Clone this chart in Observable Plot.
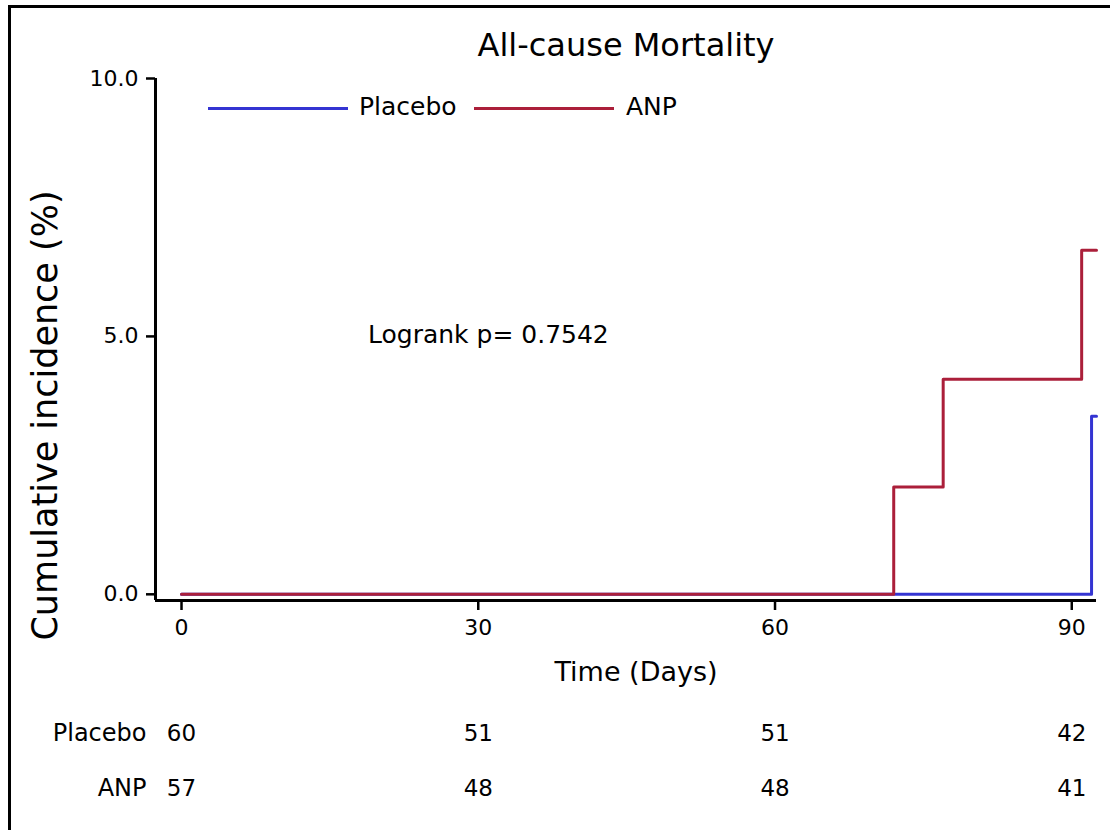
<!DOCTYPE html>
<html>
<head>
<meta charset="utf-8">
<script src="https://cdn.jsdelivr.net/npm/d3@7"></script>
<script src="https://cdn.jsdelivr.net/npm/@observablehq/plot@0.6"></script>
<style>
  html, body { margin: 0; padding: 0; background: #fff; }
  #wrap { position: relative; width: 1110px; height: 830px; overflow: hidden; font-family: "DejaVu Sans", sans-serif; color: #000; }
  #frame { position: absolute; left: 8px; top: 5px; width: 1110px; height: 840px; border-top: 3px solid #000; border-left: 3px solid #000; box-sizing: border-box; pointer-events: none; }
  #chart { position: absolute; left: 0; top: 0; }
  .overlay { position: absolute; white-space: nowrap; line-height: 1; }
</style>
</head>
<body>
<div id="wrap">
  <div id="chart"></div>
  <div id="frame"></div>
</div>
<script>
// ---- data ----
const groups = ["Placebo", "ANP"];
const groupColors = ["#3434d2", "#ab1f3a"];
const placeboDays = [0, 92, 92.5];
const placeboPct = [0, 3.45, 3.45];
const anpDays = [0, 72, 77, 91, 92.5];
const anpPct = [0, 2.08, 4.17, 6.67, 6.67];
const xTicks = [0, 30, 60, 90];
const yTicks = [0, 5, 10];
const xDomain = [-2.63, 92.5];
const yDomain = [-0.12, 10];
const atRiskTimes = [0, 30, 60, 90];
const atRiskPlacebo = [60, 51, 51, 42];
const atRiskANP = [57, 48, 48, 41];
const titleText = "All-cause Mortality";
const xLabel = "Time (Days)";
const yLabel = "Cumulative incidence (%)";
const logrankText = "Logrank p= 0.7542";

const placebo = placeboDays.map((d, i) => ({day: d, pct: placeboPct[i], group: "Placebo"}));
const anp = anpDays.map((d, i) => ({day: d, pct: anpPct[i], group: "ANP"}));
const riskPlacebo = atRiskTimes.map((t, i) => ({t, n: atRiskPlacebo[i]}));
const riskANP = atRiskTimes.map((t, i) => ({t, n: atRiskANP[i]}));

const font = "'DejaVu Sans', sans-serif";

const plot = Plot.plot({
  width: 1110,
  height: 830,
  marginLeft: 155,
  marginRight: 14,
  marginTop: 78,
  marginBottom: 230,
  style: {fontFamily: font, fontSize: "22px", color: "#000", background: "transparent", overflow: "visible"},
  x: {domain: xDomain},
  y: {domain: yDomain},
  color: {domain: groups, range: groupColors},
  marks: [
    Plot.axisX(xTicks, {tickSize: 10, tickPadding: 9, strokeWidth: 2.5, label: null, fontSize: 22, fill: "#000"}),
    Plot.axisY(yTicks, {tickSize: 9, tickPadding: 8, strokeWidth: 2.5, tickFormat: d3.format(".1f"), label: null, fontSize: 22, fill: "#000"}),
    Plot.ruleY([yDomain[0]], {stroke: "#000", strokeWidth: 3}),
    Plot.ruleX([xDomain[0]], {y1: yDomain[0], y2: yDomain[1], stroke: "#000", strokeWidth: 3}),
    Plot.line(placebo, {x: "day", y: "pct", stroke: "group", curve: "step-after", strokeWidth: 3}),
    Plot.line(anp, {x: "day", y: "pct", stroke: "group", curve: "step-after", strokeWidth: 3}),
    Plot.text([titleText], {frameAnchor: "top", dy: -33, fontSize: 32, lineAnchor: "middle", fill: "#000"}),
    Plot.text([xLabel], {frameAnchor: "bottom", dx: 10, dy: 72, fontSize: 27, lineAnchor: "middle", fill: "#000"}),
    Plot.text([yLabel], {frameAnchor: "left", dx: -110, dy: 76, rotate: -90, textAnchor: "middle", fontSize: 35, lineAnchor: "middle", fill: "#000"}),
    Plot.text(riskPlacebo, {x: "t", text: "n", frameAnchor: "bottom", dy: 133, lineAnchor: "middle", fontSize: 23, fill: "#000"}),
    Plot.text(riskANP, {x: "t", text: "n", frameAnchor: "bottom", dy: 188, lineAnchor: "middle", fontSize: 23, fill: "#000"}),
    Plot.text([groups[0]], {frameAnchor: "bottom-left", dx: -9, dy: 133, textAnchor: "end", lineAnchor: "middle", fontSize: 24, fill: "#000"}),
    Plot.text([groups[1]], {frameAnchor: "bottom-left", dx: -9, dy: 188, textAnchor: "end", lineAnchor: "middle", fontSize: 24, fill: "#000"})
  ]
});
document.getElementById("chart").appendChild(plot);

// legend and annotation overlays
const wrap = document.getElementById("wrap");
function addSwatch(x1, x2, y, color) {
  const el = document.createElement("div");
  el.className = "overlay";
  el.style.left = x1 + "px";
  el.style.top = (y - 1.5) + "px";
  el.style.width = (x2 - x1) + "px";
  el.style.height = "3px";
  el.style.background = color;
  wrap.appendChild(el);
}
function addText(txt, x, yCenter, size) {
  const el = document.createElement("div");
  el.className = "overlay";
  el.textContent = txt;
  el.style.left = x + "px";
  el.style.top = (yCenter - size * 0.6) + "px";
  el.style.fontSize = size + "px";
  wrap.appendChild(el);
}
addSwatch(208, 348, 108, groupColors[0]);
addText(groups[0], 359, 109, 25);
addSwatch(474, 614, 108, groupColors[1]);
addText(groups[1], 626, 109, 25);
addText(logrankText, 368, 337, 25);
</script>
</body>
</html>
